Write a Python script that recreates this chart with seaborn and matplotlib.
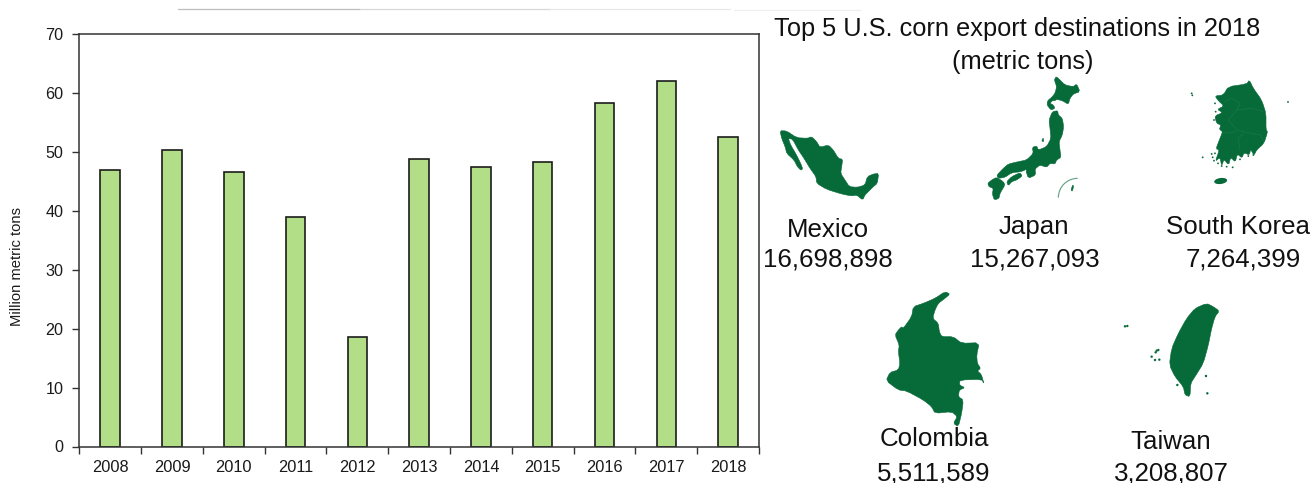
import numpy as np
import pandas as pd
import matplotlib
matplotlib.use("Agg")
import matplotlib.pyplot as plt
from matplotlib.patches import Polygon, Ellipse, Arc
from matplotlib.lines import Line2D
import seaborn as sns

# Annual U.S. corn exports
years = ["2008", "2009", "2010", "2011", "2012", "2013",
         "2014", "2015", "2016", "2017", "2018"]
exports_mmt = [47.0, 50.3, 46.5, 39.0, 18.6, 48.8, 47.5, 48.2, 58.3, 62.0, 52.5]

# Top destinations
countries = ["Mexico", "Japan", "South Korea", "Colombia", "Taiwan"]
tons = ["16,698,898", "15,267,093", "7,264,399", "5,511,589", "3,208,807"]

GREEN = "#066a39"
BAR = "#b1de87"
INK = "#1a1a1a"
FONT = "Liberation Sans"

sns.set_theme(style="white")
plt.rcParams["font.family"] = [FONT, "DejaVu Sans"]

fig = plt.figure(figsize=(13.12, 4.83), dpi=100, facecolor="white")
W, H = 1312.0, 483.0

ax = fig.add_axes([79.3 / W, 1 - 446.5 / H, (759 - 79.3) / W, (446.5 - 34) / H])
df = pd.DataFrame({"year": years, "exports": exports_mmt})
sns.barplot(data=df, x="year", y="exports", ax=ax, color=BAR, saturation=1,
            width=0.315, edgecolor="#1c1c1c", linewidth=1.2)
ax.set_xlim(-0.5, 10.5)
ax.set_ylim(0, 70)
ax.set_yticks(np.arange(0, 71, 10))
ax.set_xticks(np.arange(-0.5, 11, 1))
ax.set_xticklabels([])
ax.set_xticks(np.arange(11), labels=years, minor=True)
ax.tick_params(axis="x", which="major", length=5, width=1, color="#333333", bottom=True)
ax.tick_params(axis="x", which="minor", length=0, labelsize=11.8, pad=9.5, labelcolor=INK)
ax.tick_params(axis="y", which="major", length=5, width=1, color="#333333", left=True,
               labelsize=11.6, pad=6.5, labelcolor=INK)
ax.set_xlabel("")
ax.set_ylabel("")
for s in ax.spines.values():
    s.set_visible(True)
    s.set_color("#333333")
    s.set_linewidth(1.1)
fig.text(17 / W, 1 - 266 / H, "Million metric tons", rotation=90, ha="center",
         va="center", fontsize=10.6, color=INK)

# Overlay in figure pixels for the silhouettes and captions
ov = fig.add_axes([0, 0, 1, 1], facecolor="none")
ov.set_xlim(0, W)
ov.set_ylim(H, 0)
ov.axis("off")


def rounded(xy):
    """One corner-cutting pass so that outlines read as coastlines."""
    nxt = np.roll(xy, -1, axis=0)
    return np.column_stack([0.8 * xy + 0.2 * nxt, 0.2 * xy + 0.8 * nxt]).reshape(-1, 2)


def shape(points, origin):
    """Add a filled outline given in 3x-enlarged offsets from an origin."""
    xy = np.array(points, dtype=float) / 3 + np.array(origin)
    ov.add_patch(Polygon(rounded(xy), closed=True, fc=GREEN, ec=GREEN, lw=0.4))


def specks(points, origin, r=1.5):
    for px, py in points:
        ov.add_patch(Ellipse((origin[0] + px / 3, origin[1] + py / 3), r, r,
                             fc=GREEN, ec="none"))


mexico = [(30, 182), (50, 183), (80, 203), (112, 205), (125, 200), (140, 215), (150, 232),
          (175, 225), (190, 240), (205, 265), (218, 268), (215, 290), (212, 310), (225, 330),
          (238, 350), (262, 352), (285, 345), (292, 320), (310, 312), (326, 310), (322, 340),
          (310, 350), (295, 365), (285, 375), (278, 390), (260, 375), (245, 378), (215, 372),
          (170, 358), (140, 340), (138, 320), (120, 295), (100, 262), (85, 240), (68, 208),
          (55, 205), (62, 225), (78, 252), (92, 280), (98, 296), (93, 301), (82, 290), (72, 270),
          (50, 250), (46, 232), (35, 205)]
shape(mexico, (770, 70))

# Japan
JP = (975, 70)
for part in (
    [(243, 20), (250, 25), (270, 45), (295, 50), (305, 42), (315, 65), (295, 72), (285, 85),
     (280, 103), (262, 92), (245, 88), (240, 92), (232, 92), (225, 100), (235, 105), (240, 115),
     (228, 120), (216, 105), (218, 92), (230, 82), (240, 70), (245, 50), (238, 30)],
    [(232, 125), (248, 122), (250, 135), (262, 145), (266, 170), (262, 195), (252, 215), (255, 240),
     (258, 262), (245, 270), (240, 282), (225, 280), (215, 292), (195, 285), (180, 297), (182, 315),
     (160, 325), (152, 300), (165, 292), (140, 305), (110, 308), (90, 322), (70, 325), (65, 316),
     (85, 295), (100, 282), (130, 275), (155, 270), (175, 250), (172, 232), (185, 228), (190, 240),
     (215, 230), (228, 205), (225, 175), (222, 150)],
    [(95, 335), (110, 320), (135, 308), (142, 318), (125, 330), (110, 335), (100, 347)],
    [(38, 340), (50, 330), (65, 322), (85, 335), (90, 345), (75, 370), (72, 385), (58, 390),
     (52, 372), (55, 355), (42, 350)],
    [(200, 213), (205, 203), (206, 215)],
    [(288, 360), (293, 345), (296, 348), (292, 364)],
):
    shape(part, JP)
# Ogasawara inset arc
ov.add_patch(Arc((975 + 308 / 3, 70 + 383 / 3), 116 / 3, 116 / 3, theta1=180, theta2=270,
                 ec="#5f9f80", lw=0.8))

# South Korea
KR = (1040, 70)
korea = [(565, 50), (620, 42), (628, 30), (640, 55), (665, 90), (678, 130), (678, 180), (683, 185),
         (672, 220), (650, 240), (642, 256), (632, 238), (628, 255), (612, 248), (606, 264), (592, 252),
         (586, 276), (572, 262), (566, 285), (552, 268), (545, 288), (540, 262), (526, 274), (538, 240),
         (528, 236), (540, 205), (548, 185), (538, 178), (543, 165), (530, 160), (524, 138), (548, 128),
         (532, 118), (552, 108), (535, 92), (525, 78), (550, 75)]
shape(korea, KR)
ov.add_patch(Ellipse((1040 + 542 / 3, 70 + 333 / 3), 13, 6, angle=-8, fc=GREEN, ec="none"))
specks([(455, 70), (457, 76), (744, 96), (525, 100), (527, 125), (522, 150), (525, 250), (518, 262),
        (515, 252), (488, 262), (545, 288), (560, 290), (578, 292), (600, 268), (625, 258), (640, 255),
        (522, 272), (534, 280)], KR, 1.8)
# Province borders within the peninsula
for seg in ([(555, 95), (575, 85), (600, 100), (590, 120), (635, 115), (670, 125)],
            [(590, 120), (565, 150), (590, 180), (610, 185), (660, 195), (672, 215)],
            [(610, 190), (595, 205), (600, 240)],
            [(545, 190), (590, 185)]):
    pts = np.array(seg, dtype=float) / 3 + np.array(KR)
    ov.plot(pts[:, 0], pts[:, 1], color="#1f7a4c", lw=0.4)

CO = (870, 285)
colombia = [(225, 20), (240, 27), (225, 40), (205, 55), (195, 75), (188, 100), (205, 115), (208, 140),
            (215, 155), (250, 155), (275, 175), (328, 173), (320, 210), (322, 235), (332, 250), (322, 258),
            (334, 268), (342, 296), (335, 283), (270, 285), (268, 300), (285, 308), (268, 315), (265, 335),
            (280, 345), (275, 385), (265, 425), (250, 415), (262, 395), (245, 380), (195, 385), (185, 365),
            (160, 345), (110, 318), (85, 315), (48, 287), (60, 262), (85, 255), (90, 235), (85, 200),
            (88, 180), (75, 150), (85, 135), (95, 125), (100, 130), (125, 95), (130, 65), (160, 55), (195, 40)]
shape(colombia, CO)

taiwan = [(1010, 55), (1030, 65), (1048, 78), (1035, 95), (1025, 130), (1015, 180), (1000, 235), (975, 275),
          (962, 295), (960, 335), (945, 330), (940, 305), (915, 275), (898, 240), (905, 190), (925, 145),
          (950, 100), (975, 70)]
shape(taiwan, CO)
specks([(765, 124), (772, 123), (860, 197), (865, 195), (857, 202), (855, 225), (868, 224), (845, 215),
        (1008, 273), (1012, 325), (922, 300)], CO, 2.4)

# Caption text
caption = dict(ha="center", va="center", color="#111111")
ov.text(1017.5, 29, "Top 5 U.S. corn export destinations in 2018", fontsize=18.3, **caption)
ov.text(1023, 61.5, "(metric tons)", fontsize=18.3, **caption)
spots = [((828, 230), (828, 260)), ((1034, 227), (1035, 260)), ((1238, 227), (1243, 260)),
         ((934, 439), (934, 473)), ((1171, 442), (1171, 473))]
for name, amount, (p1, p2) in zip(countries, tons, spots):
    ov.text(*p1, name, fontsize=18.6, **caption)
    ov.text(*p2, amount, fontsize=18.6, **caption)

# Faint rules along the top edge
for x0, x1, y, c in [(178, 360, 8.5, "#bdbdbd"), (360, 550, 8.8, "#d8d8d8"),
                     (550, 730, 9.2, "#e8e8e8"), (734, 860, 10, "#efefef")]:
    ov.add_line(Line2D([x0, x1], [y, y], color=c, lw=0.9))

fig.savefig("out.png", dpi=100, facecolor="white")
